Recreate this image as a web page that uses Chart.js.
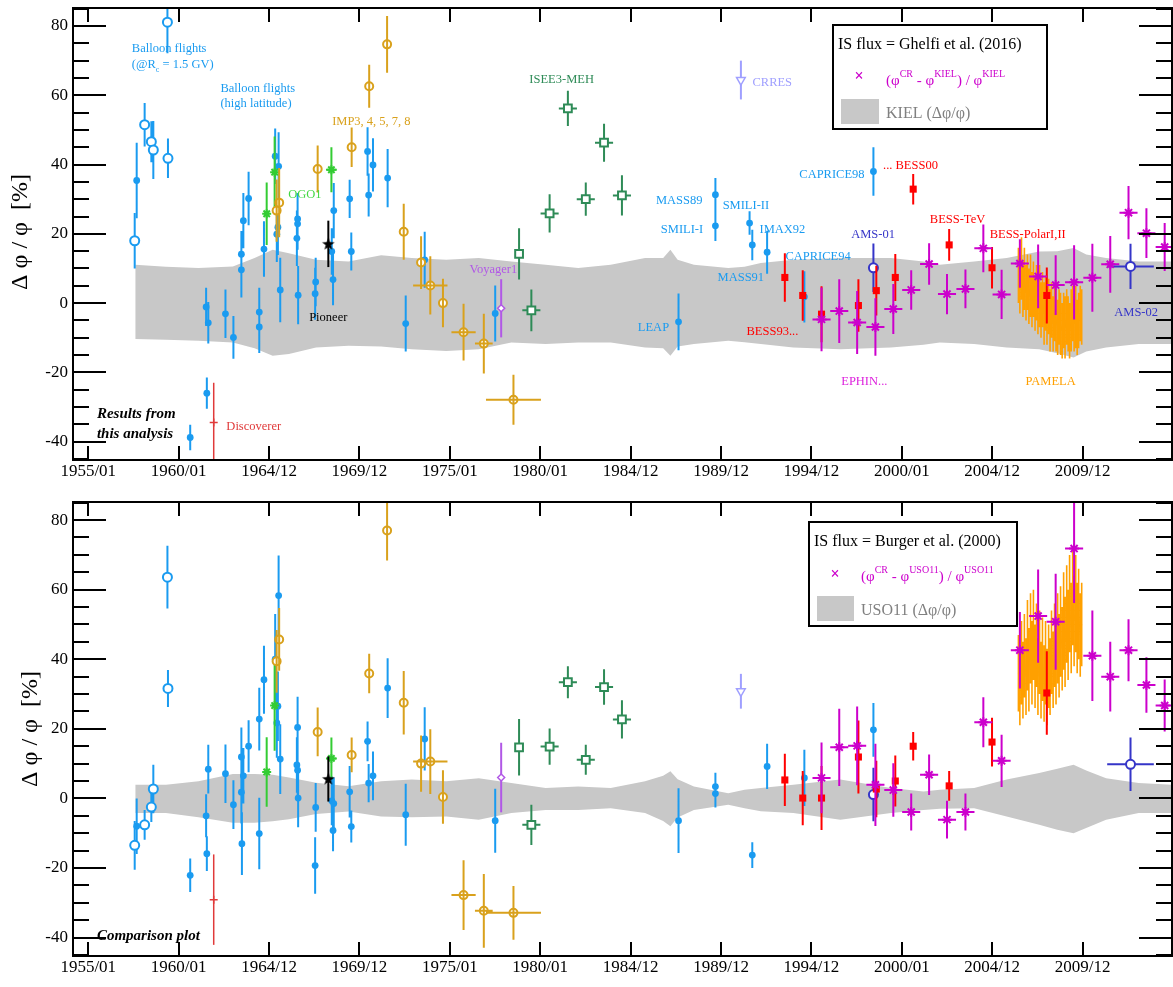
<!DOCTYPE html>
<html><head><meta charset="utf-8">
<script src="https://cdn.jsdelivr.net/npm/chart.js@4/dist/chart.umd.min.js"></script>
<style>
html,body{margin:0;padding:0;background:#fff;overflow:hidden;width:1173px;height:987px}
#wrap{position:absolute;left:0;top:0;width:1180px;height:987px}
.box{position:absolute;left:0;width:1180px}
#b1{top:0;height:490px}
#b2{top:490px;height:497px}
</style></head><body>
<div id="wrap">
<div class="box" id="b1"><canvas id="c1" width="1180" height="490" style="width:1180px;height:490px;display:block"></canvas></div>
<div class="box" id="b2"><canvas id="c2" width="1180" height="497" style="width:1180px;height:497px;display:block"></canvas></div>
</div>
<script>
// ---------------- DATA ----------------
const xTickValues = [1955,1960,1965,1970,1975,1980,1985,1990,1995,2000,2005,2010];
const xTickLabels = ['1955/01','1960/01','1964/12','1969/12','1975/01','1980/01','1984/12','1989/12','1994/12','2000/01','2004/12','2009/12'];
const yTickValues = [-40,-20,0,20,40,60,80];
const yTickLabels = ['-40','-20','0','20','40','60','80'];

// KIEL / USO11 uncertainty band
const bandX   = [1957.6,1959.3,1961.1,1963.0,1964.2,1965.2,1966.1,1967.6,1969.4,1971.2,1972.9,1974.8,1976.6,1978.4,1980.3,1982.1,1983.9,1985.8,1986.8,1987.2,1987.6,1988.5,1990.4,1991.3,1992.2,1994.0,1996.6,1999.4,2001.2,2002.1,2004.0,2005.8,2007.6,2008.6,2009.5,2010.2,2011.3,2013.1,2014.95];
const band1Up = [11.1,10.5,10.1,10.6,13.0,15.4,14.4,12.5,12.0,13.8,13.0,12.5,13.0,12.0,11.1,10.1,11.1,13.0,13.0,15.4,12.5,11.1,10.1,10.5,11.6,12.5,13.0,13.0,12.0,11.1,12.0,13.0,14.9,15.0,15.9,14.0,13.0,12.0,12.0];
const band1Lo = [-10.4,-10.6,-10.9,-11.4,-13.0,-15.2,-14.7,-12.8,-12.3,-12.5,-13.3,-13.8,-13.3,-11.4,-11.8,-11.4,-11.4,-12.8,-13.0,-15.2,-12.5,-11.8,-10.9,-11.3,-11.8,-12.8,-13.3,-12.8,-12.0,-11.4,-11.8,-12.8,-13.3,-14.5,-15.7,-14.0,-12.8,-11.8,-11.8];
const band2Up = [3.9,3.9,4.9,7.0,7.0,6.8,6.0,4.5,3.5,4.9,5.4,4.9,5.8,4.4,3.0,3.4,3.0,4.9,6.5,7.8,5.5,3.4,1.5,2.5,3.0,3.9,5.4,3.0,2.0,2.5,3.0,5.4,7.3,8.5,9.7,8.0,5.8,4.4,3.9];
const band2Lo = [-4.2,-4.2,-5.4,-7.0,-7.0,-6.6,-6.0,-4.5,-3.8,-5.2,-5.4,-5.2,-6.1,-4.2,-3.3,-3.3,-2.8,-4.2,-6.5,-8.0,-5.5,-3.3,-1.8,-2.8,-3.7,-4.2,-6.1,-4.2,-3.3,-3.0,-2.8,-5.2,-7.6,-9.0,-10.0,-8.5,-6.1,-4.2,-4.2];

// Balloon flights (@Rc = 1.5 GV), open circles
const balOpenX  = [1957.57,1958.12,1958.49,1958.60,1959.38,1959.41];
const balOpenY1 = [18.0,51.5,46.6,44.2,81.1,41.8];
const balOpenE1 = [8,6.3,5.9,8.4,9,5.7];
const balOpenY2 = [-13.5,-7.6,-2.5,2.7,63.6,31.6];
const balOpenE2 = [7,4.3,4.3,7,9,5.3];

// Balloon flights (high latitude) + MASS, SMILI, IMAX, LEAP, CAPRICE (filled circles)
const bal1X = [1957.68,1960.64,1961.52,1961.56,1961.64,1962.59,1963.03,1963.47,1963.47,1963.58,1963.87,1964.46,1964.46,1964.72,1965.34,1965.43,1965.49,1965.53,1965.62,1966.54,1966.58,1966.58,1966.61,1967.55,1967.58,1968.47,1968.54,1968.58,1969.46,1969.55,1970.45,1970.51,1970.75,1971.56,1972.56,1973.61,1977.51,1987.65,1989.69,1989.69,1991.58,1991.73,1992.55,1994.61,1998.43];
const bal1Y = [35.4,-38.8,-1.1,-26.0,-5.7,-3.1,-9.9,14.1,9.6,23.8,30.2,-2.6,-6.9,15.6,42.4,19.9,21.9,39.5,3.8,18.7,24.3,22.9,2.3,2.7,6.1,14.9,6.8,26.7,30.1,14.9,43.8,31.2,39.9,36.1,-5.9,12.5,-3.0,-5.4,31.3,22.3,23.1,16.8,14.7,1.8,38.0];
const bal1E = [10.9,3.7,5.5,4.5,6.0,7.0,6.2,6.7,8.0,8.0,7.7,7.0,7.5,8.0,8.0,8.0,8.0,9.8,9.3,8.0,7.5,7.5,8.4,7.5,7.0,6.7,7.4,8.0,5.5,5.5,7.0,6.2,7.7,8.4,8.1,8.1,8.1,8.2,4.8,4.4,3.4,4.4,6.2,7.4,7.0];
const bal2X = [1957.68,1960.64,1961.52,1961.56,1961.64,1962.59,1963.03,1963.47,1963.47,1963.50,1963.58,1963.87,1964.46,1964.46,1964.72,1965.34,1965.43,1965.49,1965.53,1965.62,1966.54,1966.58,1966.58,1966.61,1967.55,1967.58,1968.47,1968.54,1968.58,1969.46,1969.55,1970.45,1970.51,1970.75,1971.56,1972.56,1973.61,1977.51,1987.65,1989.69,1989.69,1991.73,1992.55,1994.61,1998.43];
const bal2Y = [-8.0,-22.1,-5.0,-15.9,8.4,7.1,-1.8,11.9,1.8,-13.0,6.5,15.0,22.8,-10.1,34.1,40.0,21.7,26.5,58.3,11.3,9.6,20.4,8.1,0.1,-19.3,-2.6,-0.7,-9.2,-1.5,1.9,-8.1,16.4,4.4,6.5,31.7,-4.7,17.1,-6.4,-6.4,3.4,1.4,-16.3,9.2,5.9,19.7];
const bal2E = [8,4.8,6.2,5,7,8.4,7,8.5,9,9,8,7.5,9,10.3,9.8,13,10,10,11.5,10,8,8.8,8,8.4,8.1,7,7,6,7.5,7.4,4.6,5.7,5.5,7,8.6,8.9,9.1,9.2,9.3,4,4,3.7,6.5,8.1,7.7];

// Discoverer
const discX = [1961.94];
const discY1 = [-34.5]; const discE1 = [11.5];
const discY2 = [-29.1]; const discE2 = [13];

// OGO1
const ogoX = [1964.87,1965.31,1968.45];
const ogoXE = [0,0,0.3];
const ogoY1 = [25.8,37.8,38.5]; const ogoE1 = [9,10.3,6.5];
const ogoY2 = [7.6,26.7,11.5];  const ogoE2 = [10,13,6];

// Pioneer
const pioX = [1968.28];
const pioY1 = [17.1]; const pioE1 = [6.7];
const pioY2 = [5.6];  const pioE2 = [6.5];

// IMP3, 4, 5, 7, 8
const impX  = [1965.42,1965.56,1967.69,1969.57,1970.54,1971.53,1972.45,1973.41,1973.92,1974.62,1975.76,1976.88,1978.52];
const impXE = [0,0,0,0,0,0,0,0,0.95,0,0.67,0.49,1.52];
const impY1 = [26.7,29.0,38.7,45.0,62.6,74.7,20.6,11.7,5.1,0.0,-8.4,-11.7,-27.9];
const impE1 = [9,10,6.8,5.7,6.2,8.2,8.1,7.6,8.4,7.0,8.2,8.6,7.2];
const impY2 = [39.4,45.7,19.1,12.5,35.9,77.0,27.5,10.0,10.6,0.4,-27.8,-32.3,-32.9];
const impE2 = [9,9,7,5,5.7,8.6,9.1,8.1,9.3,7.7,10,10.6,7.7];

// Voyager1
const voyX = [1977.84];
const voyY1 = [-1.5]; const voyE1 = [8.4];
const voyY2 = [6.0];  const voyE2 = [10];

// ISEE3-MEH
const iseX  = [1978.83,1979.51,1980.52,1981.53,1982.52,1983.53,1984.52];
const iseXE = [0,0.5,0.5,0.5,0.5,0.5,0.5];
const iseY1 = [14.2,-2.1,25.9,56.2,30.0,46.3,31.1];
const iseE1 = [7.4,6,5.5,5.1,4.8,5.5,5.8];
const iseY2 = [14.7,-7.6,14.9,33.4,11.1,32.0,22.7];
const iseE2 = [8.1,5.8,5.2,4.6,4.3,5.1,5.5];

// CRRES
const crrX = [1991.1];
const crrY1 = [64.4]; const crrE1 = [5.6];
const crrY2 = [30.8]; const crrE2 = [5];

// BESS
const bessX  = [1993.53,1994.52,1995.56,1997.60,1998.59,1999.64,2000.63,2002.62,2004.99,2008.02];
const bessY1 = [7.4,2.2,-3.2,-0.7,3.6,7.4,32.9,16.8,10.2,2.2];
const bessE1 = [7,7.3,8.1,7.6,7.2,6.8,4.4,4.6,6,8.1];
const bessY2 = [5.3,0.1,0.1,11.9,2.7,5.0,15.0,3.6,16.2,30.3];
const bessE2 = [7.5,7.8,9.2,10.5,8.1,7.3,4.1,4.3,7,12];

// AMS-01, AMS-02
const amsX  = [1998.43,2012.65];
const amsXE = [0,1.29];
const amsY1 = [10.2,10.6]; const amsE1 = [7,6.5];
const amsY2 = [1.1,9.8];   const amsE2 = [7.7,7.7];

// EPHIN
const ephX  = [1995.56,1996.54,1997.53,1998.54,1999.53,2000.52,2001.51,2002.50,2003.52,2004.51,2005.52,2006.53,2007.54,2008.51,2009.53,2010.54,2011.53,2012.54,2013.53,2014.54];
const ephXE = [0.5,0.5,0.5,0.5,0.5,0.5,0.5,0.5,0.5,0.5,0.5,0.5,0.5,0.5,0.5,0.5,0.5,0.5,0.5,0.5];
const ephY1 = [-4.7,-2.3,-5.6,-6.9,-1.7,3.8,11.3,2.6,4.1,15.8,2.5,11.4,7.7,5.2,6.0,7.3,11.2,26.1,20.2,16.2];
const ephE1 = [9.2,9.2,9.1,8.3,7.2,5.7,6,5.8,5.6,6.9,7.1,7,9.2,8.6,10.7,9.8,8.2,7.7,7.2,6.9];
const ephY2 = [5.9,14.7,15.1,3.9,2.4,-3.9,6.8,-6.1,-3.9,21.9,10.8,42.6,52.4,50.8,71.8,41.0,35.0,42.6,32.6,26.7];
const ephE2 = [10.2,11.1,11.3,11.8,7.7,5.3,5.8,5.4,5.3,7.2,7.5,11,13.4,13.8,15.6,13,10,8.9,8,7.5];

// PAMELA (monthly)
const pamX  = [2006.45,2006.53,2006.62,2006.70,2006.78,2006.87,2006.95,2007.03,2007.12,2007.20,2007.28,2007.37,2007.45,2007.53,2007.62,2007.70,2007.78,2007.87,2007.95,2008.03,2008.12,2008.20,2008.28,2008.37,2008.45,2008.53,2008.62,2008.70,2008.78,2008.87,2008.95,2009.03,2009.12,2009.20,2009.28,2009.37,2009.45,2009.53,2009.62,2009.70,2009.78,2009.87,2009.95];
const pamY1 = [8,5,10,4,7,3,6,2,5,1,4,0,3,-1,2,-2,1,-3,0,-4,-1,-5,-2,-6,-3,-5,-7,-4,-6,-8,-5,-7,-4,-6,-8,-5,-3,-6,-4,-7,-5,-3,-4];
const pamE1 = [8,8,9,8,9,8,8,8,9,8,8,8,8,8,9,8,8,9,8,8,8,9,8,8,8,9,8,8,9,8,8,9,8,8,8,9,8,8,9,8,8,8,8];
const pamY2 = [36,31,39,34,41,35,44,37,46,39,47,38,44,35,42,34,40,33,39,32,38,35,42,37,44,39,46,41,48,43,51,45,53,47,56,49,58,51,56,49,53,47,50];
const pamE2 = [11,10,12,11,12,11,13,12,13,12,13,12,12,11,12,11,12,11,12,11,12,11,12,11,12,12,13,12,13,12,14,13,14,13,14,13,14,13,14,13,13,12,12];

// ---------------- STYLE ----------------
const SERIF = '"Liberation Serif", "DejaVu Serif", serif';
const BLUE = '#1a9bf0', GOLD = '#d9a11c', GREEN = '#33cc33', SEA = '#2e8b57', RED = '#ff0000',
      DRED = '#e03a3a', MAG = '#cc00cc', VIO = '#b158e6', CRR = '#9f9fff', AMSC = '#3535c8', ORA = '#ffa000', GRAY = '#c8c8c8';
const X_MIN = 1954.157, X_MAX = 2014.945, Y_MIN = -45.3, Y_MAX = 85.2;

function pts(xs, ys) { return xs.map((x, i) => ({ x: x, y: ys[i] })); }

function starImg(color) {
  const c = document.createElement('canvas'); c.width = 14; c.height = 14;
  const g = c.getContext('2d'); g.fillStyle = color; g.beginPath();
  for (let i = 0; i < 10; i++) {
    const r = i % 2 ? 2.8 : 6.6, a = -Math.PI / 2 + i * Math.PI / 5;
    g.lineTo(7 + r * Math.cos(a), 7.5 + r * Math.sin(a));
  }
  g.closePath(); g.fill(); return c;
}
const pioneerStar = starImg('#000');

function datasets(p) {
  const a = p === 1;
  return [
    { data: pts(ephX, a ? ephY1 : ephY2), yErr: a ? ephE1 : ephE2, xErr: ephXE, barColor: MAG,
      pointStyle: 'star', pointRadius: 5, borderColor: MAG, backgroundColor: MAG, borderWidth: 2 },
    { data: pts(bessX, a ? bessY1 : bessY2), yErr: a ? bessE1 : bessE2, barColor: RED,
      pointStyle: 'rect', pointRadius: 5, borderColor: RED, backgroundColor: RED, borderWidth: 0 },
    { data: pts(amsX, a ? amsY1 : amsY2), yErr: a ? amsE1 : amsE2, xErr: amsXE, barColor: AMSC,
      pointStyle: 'circle', pointRadius: 4.5, borderColor: AMSC, backgroundColor: '#fff', borderWidth: 2 },
    { data: pts(crrX, a ? crrY1 : crrY2), yErr: a ? crrE1 : crrE2, barColor: CRR,
      pointStyle: 'triangle', rotation: 180, pointRadius: 5, borderColor: CRR, backgroundColor: '#fff', borderWidth: 1.5 },
    { data: pts(iseX, a ? iseY1 : iseY2), yErr: a ? iseE1 : iseE2, xErr: iseXE, barColor: SEA,
      pointStyle: 'rect', pointRadius: 5.5, borderColor: SEA, backgroundColor: '#fff', borderWidth: 2 },
    { data: pts(voyX, a ? voyY1 : voyY2), yErr: a ? voyE1 : voyE2, barColor: VIO,
      pointStyle: 'rectRot', pointRadius: 3.5, borderColor: VIO, backgroundColor: '#fff', borderWidth: 1.5 },
    { data: pts(impX, a ? impY1 : impY2), yErr: a ? impE1 : impE2, xErr: impXE, barColor: GOLD, barsOnTop: true,
      pointStyle: 'circle', pointRadius: 4, borderColor: GOLD, backgroundColor: '#fff', borderWidth: 2 },
    { data: pts(pioX, a ? pioY1 : pioY2), yErr: a ? pioE1 : pioE2, barColor: '#000',
      pointStyle: pioneerStar, pointRadius: 7 },
    { data: pts(ogoX, a ? ogoY1 : ogoY2), yErr: a ? ogoE1 : ogoE2, xErr: ogoXE, barColor: GREEN,
      pointStyle: 'star', pointRadius: 4.5, borderColor: GREEN, backgroundColor: GREEN, borderWidth: 2 },
    { data: pts(discX, a ? discY1 : discY2), yErr: a ? discE1 : discE2, barColor: DRED, barWidth: 1.5,
      pointStyle: 'cross', pointRadius: 4, borderColor: DRED, borderWidth: 1.5 },
    { data: pts(balOpenX, a ? balOpenY1 : balOpenY2), yErr: a ? balOpenE1 : balOpenE2, barColor: BLUE,
      pointStyle: 'circle', pointRadius: 4.5, borderColor: BLUE, backgroundColor: '#fff', borderWidth: 2 },
    { data: pts(a ? bal1X : bal2X, a ? bal1Y : bal2Y), yErr: a ? bal1E : bal2E, barColor: BLUE,
      pointStyle: 'circle', pointRadius: 3.4, borderColor: BLUE, backgroundColor: BLUE, borderWidth: 0 },
    { type: 'line', showLine: true, data: pts(pamX, a ? pamY1 : pamY2), yErr: a ? pamE1 : pamE2, barColor: ORA, barWidth: 1.6,
      borderColor: ORA, borderWidth: 1, pointRadius: 0, tension: 0, fill: false, order: 5 },
    { type: 'line', data: pts(bandX, a ? band1Up : band2Up), borderColor: 'rgba(0,0,0,0)', borderWidth: 0,
      pointRadius: 0, tension: 0, fill: '+1', backgroundColor: GRAY, order: 10 },
    { type: 'line', data: pts(bandX, a ? band1Lo : band2Lo), borderColor: 'rgba(0,0,0,0)', borderWidth: 0,
      pointRadius: 0, tension: 0, fill: false, order: 10 }
  ];
}

// ---------------- ANNOTATIONS ----------------
const labels1 = [
  { t: 'Balloon flights', x: 1957.41, y: 73.4, c: BLUE },
  { t: [['(@R', 0], ['c', 1], [' = 1.5 GV)', 0]], x: 1957.41, y: 68.8, c: BLUE },
  { t: 'Balloon flights', x: 1962.31, y: 61.9, c: BLUE },
  { t: '(high latitude)', x: 1962.31, y: 57.6, c: BLUE },
  { t: 'IMP3, 4, 5, 7, 8', x: 1968.49, y: 52.5, c: GOLD },
  { t: 'OGO1', x: 1966.06, y: 31.3, c: '#44d844' },
  { t: 'Pioneer', x: 1967.22, y: -4.3, c: '#000' },
  { t: 'Discoverer', x: 1962.64, y: -35.6, c: DRED },
  { t: 'Results from', x: 1955.48, y: -32.1, c: '#000', b: true },
  { t: 'this analysis', x: 1955.48, y: -37.8, c: '#000', b: true },
  { t: 'Voyager1', x: 1976.09, y: 9.7, c: VIO },
  { t: 'ISEE3-MEH', x: 1979.40, y: 64.5, c: SEA },
  { t: 'CRRES', x: 1991.74, y: 63.7, c: CRR },
  { t: 'MASS89', x: 1986.40, y: 29.5, c: BLUE },
  { t: 'SMILI-I', x: 1986.67, y: 21.2, c: BLUE },
  { t: 'SMILI-II', x: 1990.09, y: 28.1, c: BLUE },
  { t: 'IMAX92', x: 1992.13, y: 21.2, c: BLUE },
  { t: 'MASS91', x: 1989.81, y: 7.2, c: BLUE },
  { t: 'LEAP', x: 1985.40, y: -7.2, c: BLUE },
  { t: 'CAPRICE94', x: 1993.56, y: 13.5, c: BLUE },
  { t: 'CAPRICE98', x: 1994.33, y: 37.0, c: BLUE },
  { t: 'BESS93...', x: 1991.41, y: -8.3, c: RED },
  { t: '... BESS00', x: 1998.96, y: 39.6, c: RED },
  { t: 'BESS-TeV', x: 2001.55, y: 24.1, c: RED },
  { t: 'BESS-PolarI,II', x: 2004.86, y: 19.8, c: RED },
  { t: 'AMS-01', x: 1997.20, y: 19.8, c: AMSC },
  { t: 'AMS-02', x: 2011.75, y: -2.9, c: AMSC },
  { t: 'EPHIN...', x: 1996.65, y: -22.7, c: '#dd22dd' },
  { t: 'PAMELA', x: 2006.84, y: -22.7, c: ORA }
];
const labels2 = [
  { t: 'Comparison plot', x: 1955.48, y: -39.5, c: '#000', b: true }
];
const legend1 = { box: [833, 25, 214, 104], title: 'IS flux = Ghelfi et al. (2016)', ref: 'KIEL', band: 'KIEL (\u0394\u03c6/\u03c6)',
  titleXY: [838, 45], markXY: [859, 77], textXY: [886, 81], rect: [841, 99, 38, 25], bandXY: [886, 114] };
const legend2 = { box: [809, 32, 208, 104], title: 'IS flux = Burger et al. (2000)', ref: 'USO11', band: 'USO11 (\u0394\u03c6/\u03c6)',
  titleXY: [814, 52], markXY: [835, 85], textXY: [861, 87], rect: [817, 106, 37, 25], bandXY: [861, 121] };

// ---------------- PLUGINS ----------------
function drawBars(chart, idx, after) {
  const ds = chart.data.datasets[idx];
  if (!ds.yErr && !ds.xErr) return;
  if (!!ds.barsOnTop !== after) return;
  const xs = chart.scales.x, ys = chart.scales.y, ctx = chart.ctx, a = chart.chartArea;
  ctx.save();
  ctx.beginPath(); ctx.rect(a.left, a.top, a.right - a.left, a.bottom - a.top); ctx.clip();
  ctx.strokeStyle = ds.barColor; ctx.lineWidth = ds.barWidth || 2; ctx.lineCap = 'butt';
  ctx.beginPath();
  ds.data.forEach((p, k) => {
    const px = xs.getPixelForValue(p.x), py = ys.getPixelForValue(p.y);
    const ye = ds.yErr ? ds.yErr[k] : 0, xe = ds.xErr ? ds.xErr[k] : 0;
    if (ye) { ctx.moveTo(px, ys.getPixelForValue(p.y - ye)); ctx.lineTo(px, ys.getPixelForValue(p.y + ye)); }
    if (xe) { ctx.moveTo(xs.getPixelForValue(p.x - xe), py); ctx.lineTo(xs.getPixelForValue(p.x + xe), py); }
  });
  ctx.stroke();
  ctx.restore();
}
const errorBars = {
  id: 'errorBars',
  beforeDatasetDraw(chart, args) { drawBars(chart, args.index, false); },
  afterDatasetDraw(chart, args) { drawBars(chart, args.index, true); }
};

function richText(ctx, parts, x, y, size) {
  let cx = x;
  parts.forEach(([t, mode]) => {
    const s = mode === 0 ? size : Math.round(size * 0.66);
    const dy = mode === 0 ? 0 : (mode === 1 ? size * 0.4 : -size * 0.45);
    ctx.font = s + 'px ' + SERIF;
    ctx.fillText(t, cx, y + dy);
    cx += ctx.measureText(t).width;
  });
}

function makeFrame(labels, legend, titleXY) {
  return {
    id: 'frame',
    afterDraw(chart) {
      const ctx = chart.ctx, a = chart.chartArea, xs = chart.scales.x, ys = chart.scales.y;
      ctx.save();
      ctx.strokeStyle = '#000'; ctx.lineWidth = 2;
      ctx.beginPath();
      for (let v = -45; v <= 85; v += 5) {
        const py = Math.round(ys.getPixelForValue(v));
        const len = v % 20 === 0 ? 33 : 16;
        ctx.moveTo(a.left, py); ctx.lineTo(a.left + len, py);
        ctx.moveTo(a.right, py); ctx.lineTo(a.right - len, py);
      }
      xTickValues.forEach(v => {
        const px = Math.round(xs.getPixelForValue(v));
        ctx.moveTo(px, a.top); ctx.lineTo(px, a.top + 14);
        ctx.moveTo(px, a.bottom); ctx.lineTo(px, a.bottom - 14);
      });
      ctx.stroke();
      ctx.strokeRect(a.left, a.top, a.right - a.left, a.bottom - a.top);

      // tick labels, placed by the chart's own scales
      ctx.fillStyle = '#000'; ctx.font = '17px ' + SERIF;
      ctx.textAlign = 'right'; ctx.textBaseline = 'middle';
      yTickValues.forEach((v, i) => ctx.fillText(yTickLabels[i], a.left - 5, ys.getPixelForValue(v)));
      ctx.textAlign = 'center';
      xTickValues.forEach((v, i) => ctx.fillText(xTickLabels[i], xs.getPixelForValue(v), a.bottom + 12));

      // axis title
      ctx.save();
      ctx.translate(titleXY[0], titleXY[1]); ctx.rotate(-Math.PI / 2);
      ctx.fillStyle = '#000'; ctx.font = '24px ' + SERIF; ctx.textAlign = 'center'; ctx.textBaseline = 'middle';
      ctx.fillText('\u0394 \u03c6 / \u03c6  [%]', 0, 0);
      ctx.restore();

      // experiment labels
      ctx.textAlign = 'left'; ctx.textBaseline = 'middle';
      labels.forEach(l => {
        const px = xs.getPixelForValue(l.x), py = ys.getPixelForValue(l.y);
        ctx.fillStyle = l.c;
        if (Array.isArray(l.t)) { richText(ctx, l.t, px, py, 12.5); }
        else {
          ctx.font = l.b ? 'italic bold 15px ' + SERIF : '12.5px ' + SERIF;
          ctx.fillText(l.t, px, py);
        }
      });

      // legend
      const L = legend, b = L.box;
      ctx.fillStyle = '#fff'; ctx.fillRect(b[0], b[1], b[2], b[3]);
      ctx.strokeStyle = '#000'; ctx.lineWidth = 2; ctx.strokeRect(b[0], b[1], b[2], b[3]);
      ctx.fillStyle = '#000'; ctx.font = '16px ' + SERIF;
      ctx.fillText(L.title, L.titleXY[0], L.titleXY[1]);
      ctx.fillStyle = MAG; ctx.font = 'bold 16px ' + SERIF; ctx.textAlign = 'center';
      ctx.fillText('\u00d7', L.markXY[0], L.markXY[1]);
      ctx.textAlign = 'left';
      richText(ctx, [['(\u03c6', 0], ['CR', 2], [' - \u03c6', 0], [L.ref, 2], [') / \u03c6', 0], [L.ref, 2]], L.textXY[0], L.textXY[1], 15);
      ctx.fillStyle = GRAY; ctx.fillRect(L.rect[0], L.rect[1], L.rect[2], L.rect[3]);
      ctx.fillStyle = '#808080'; ctx.font = '16px ' + SERIF;
      ctx.fillText(L.band, L.bandXY[0], L.bandXY[1]);
      ctx.restore();
    }
  };
}

function makeChart(id, panel, padTop, padBottom, labels, legend, titleXY) {
  return new Chart(document.getElementById(id), {
    type: 'scatter',
    data: { datasets: datasets(panel) },
    options: {
      responsive: false, animation: false, events: [],
      layout: { padding: { top: padTop, right: 3, bottom: padBottom, left: 73 } },
      plugins: { legend: { display: false }, tooltip: { enabled: false } },
      scales: {
        x: { type: 'linear', min: X_MIN, max: X_MAX, display: false },
        y: { type: 'linear', min: Y_MIN, max: Y_MAX, display: false }
      }
    },
    plugins: [errorBars, makeFrame(labels, legend, titleXY)]
  });
}

makeChart('c1', 1, 5, 30, labels1, legend1, [21, 232]);
makeChart('c2', 2, 12, 31, labels2, legend2, [31, 239]);
</script>
</body></html>
